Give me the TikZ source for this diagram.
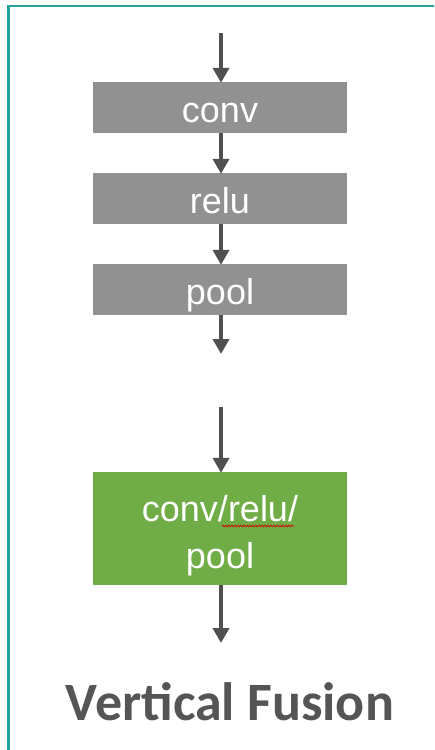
\documentclass[tikz,border=0pt]{standalone}
\usepackage{fontspec}
\setmainfont{Liberation Sans}
\newfontfamily\calib{Carlito}
\usetikzlibrary{arrows.meta,decorations.pathmorphing}
\definecolor{teal1}{HTML}{22A39D}
\definecolor{boxgray}{HTML}{919191}
\definecolor{boxgreen}{HTML}{70AD47}
\definecolor{arrowgray}{HTML}{505050}
\definecolor{titlegray}{HTML}{555555}
\tikzset{
  layerbox/.style={fill=boxgray, draw=none, minimum width=254pt, minimum height=51pt,
    inner sep=0pt, text=white, font=\fontsize{36}{36}\selectfont,
    text height=29pt, text depth=0pt},
  fusedbox/.style={fill=boxgreen, draw=none, minimum width=254pt, minimum height=113pt,
    inner sep=0pt, text=white, align=center,
    font=\fontsize{36}{47}\selectfont, text height=79pt, text depth=-7pt},
  flow/.style={draw=arrowgray, line width=4pt,
    -{Triangle[width=16pt,length=15pt]}, shorten >=-1pt}
}
\begin{document}
\begin{tikzpicture}[x=1pt,y=-1pt]
\useasboundingbox (0,0) rectangle (434,750);
\clip (0,0) rectangle (434,750);
\draw[teal1, line width=2.6pt] (8.7,6) rectangle (445,760);
\node[layerbox] (conv) at (220,107.5) {conv};
\node[layerbox] (relu) at (220,198.5) {relu};
\node[layerbox] (pool) at (220,289.5) {pool};
\node[fusedbox] (fused) at (220,528.5) {conv/relu/\\pool};
\coordinate (in1) at (221,33);
\coordinate (out1) at (221,353);
\coordinate (in2) at (221,407);
\coordinate (out2) at (221,642);
\draw[flow] (in1) -- (in1 |- conv.north);
\draw[flow] (in1 |- conv.south) -- (in1 |- relu.north);
\draw[flow] (in1 |- relu.south) -- (in1 |- pool.north);
\draw[flow] (in1 |- pool.south) -- (out1);
\draw[flow] (in2) -- (in2 |- fused.north);
\draw[flow] (in2 |- fused.south) -- (out2);
\draw[red!85!black, line width=0.7pt, decorate,
  decoration={snake, amplitude=0.9pt, segment length=3pt}]
  (222,526) -- (294,526);
\node[text=titlegray, font=\calib\bfseries\fontsize{54}{54}\selectfont, anchor=base]
  (title) at (230,720) {Vertical Fusion};
\end{tikzpicture}
\end{document}
